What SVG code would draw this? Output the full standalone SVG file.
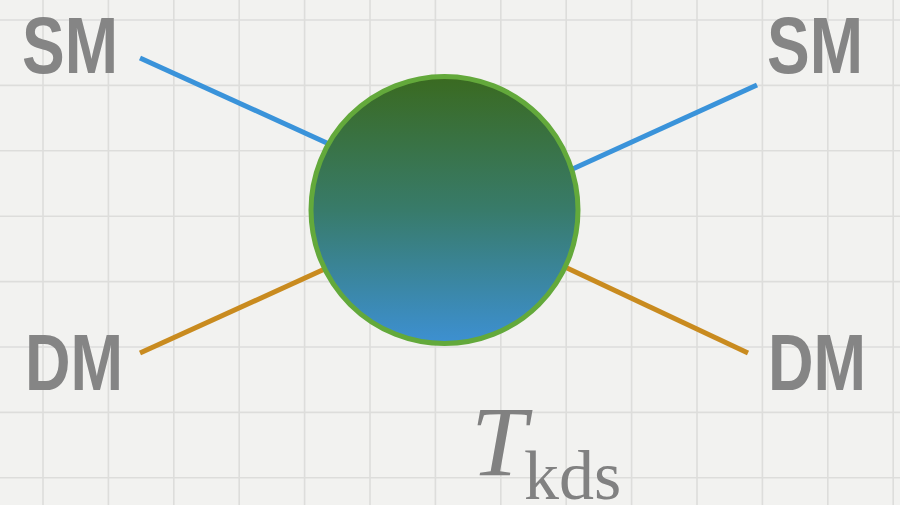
<svg xmlns="http://www.w3.org/2000/svg" width="900" height="505" viewBox="0 0 900 505">
  <defs>
    <linearGradient id="ballGrad" x1="0" y1="0" x2="0" y2="1">
      <stop offset="0" stop-color="#3a6a20"/>
      <stop offset="0.5" stop-color="#387b6a"/>
      <stop offset="1" stop-color="#3d90d2"/>
    </linearGradient>
    <style>
      .grid { stroke: #dddddb; stroke-width: 1.6; fill: none; }
      .sm { stroke: #3a93da; stroke-width: 5; fill: none; }
      .dm { stroke: #c98b1f; stroke-width: 5; fill: none; }
      .lbl { font-family: "Liberation Sans", Arial, sans-serif; font-weight: bold; font-size: 80px; fill: #858585; }
      .math { font-family: "Liberation Serif", "Times New Roman", serif; fill: #818181; }
    </style>
  </defs>
  <rect x="0" y="0" width="900" height="505" fill="#f2f2f0"/>
  <path class="grid" d="M43 0V505M108.4 0V505M173.8 0V505M239.2 0V505M304.6 0V505M370 0V505M435.4 0V505M500.8 0V505M566.2 0V505M631.6 0V505M697 0V505M762.4 0V505M827.8 0V505M893.2 0V505M0 20H900M0 85.4H900M0 150.8H900M0 216.2H900M0 281.6H900M0 347H900M0 412.4H900M0 477.8H900"/>
  <g id="connectors">
    <line class="sm" x1="140" y1="58" x2="340" y2="149"/>
    <line class="sm" x1="757" y1="85" x2="555" y2="177"/>
    <line class="dm" x1="140" y1="353" x2="340" y2="262"/>
    <line class="dm" x1="748" y1="353" x2="550" y2="260"/>
  </g>
  <g id="vertex">
    <circle cx="444.5" cy="210" r="133.5" fill="url(#ballGrad)" stroke="#63a93b" stroke-width="5"/>
  </g>
  <g id="sm-left"><text class="lbl" x="22" y="73" textLength="96" lengthAdjust="spacingAndGlyphs">SM</text></g>
  <g id="sm-right"><text class="lbl" x="767" y="73" textLength="96" lengthAdjust="spacingAndGlyphs">SM</text></g>
  <g id="dm-left"><text class="lbl" x="25" y="390" textLength="98" lengthAdjust="spacingAndGlyphs">DM</text></g>
  <g id="dm-right"><text class="lbl" x="768" y="390" textLength="98" lengthAdjust="spacingAndGlyphs">DM</text></g>
  <g id="label-tkds">
    <text class="math" x="471" y="475" font-size="100" font-style="italic">T</text>
    <text class="math" x="524" y="499" font-size="70">kds</text>
  </g>
</svg>
